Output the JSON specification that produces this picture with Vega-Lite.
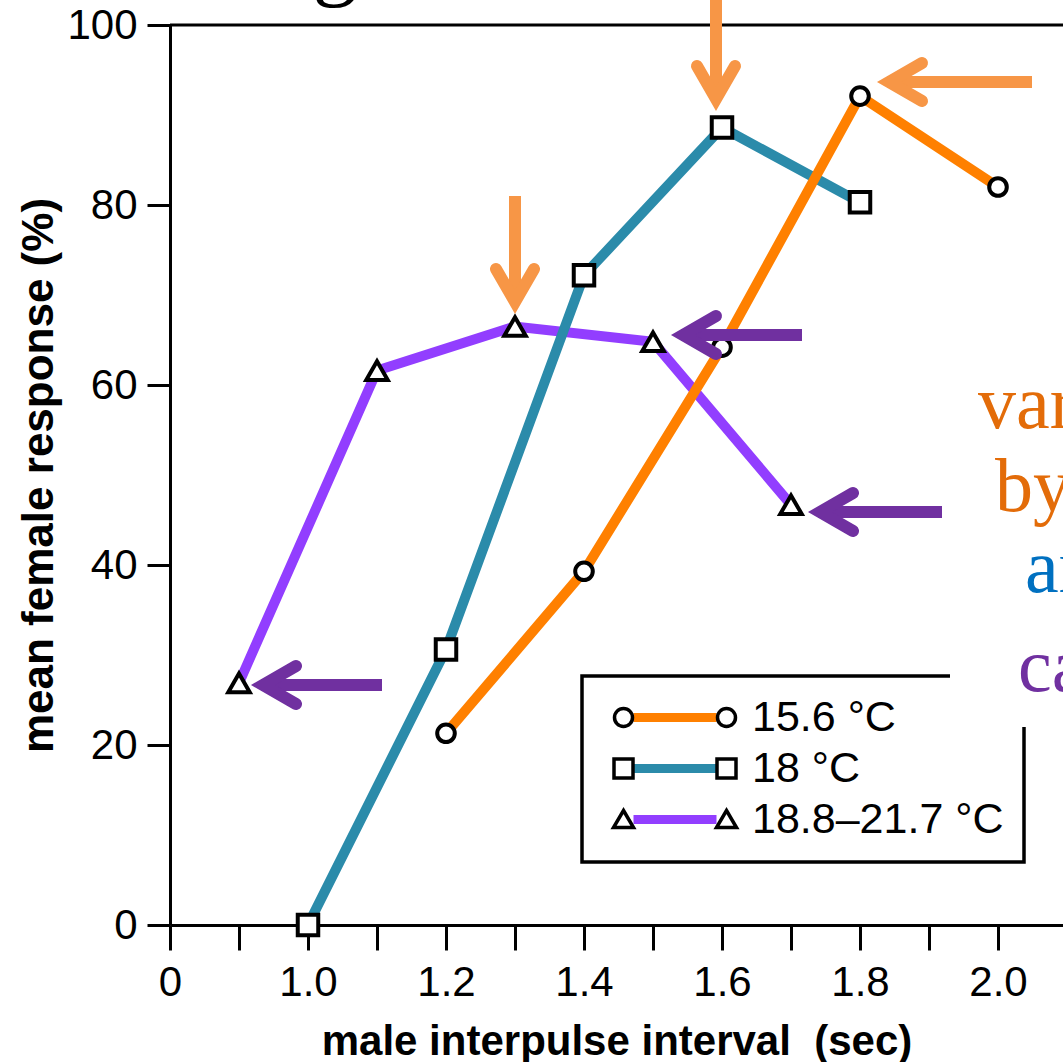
{
  "$schema": "https://vega.github.io/schema/vega-lite/v6.json",
  "width": 893,
  "height": 900,
  "autosize": {"type": "none"},
  "padding": {"left": 170, "top": 25, "right": 0, "bottom": 137},
  "background": "white",
  "config": {
    "view": {"stroke": null},
    "font": "Liberation Sans",
    "legend": {"strokeWidth": 3},
    "axis": {
      "domainColor": "black", "tickColor": "black", "labelColor": "black", "titleColor": "black",
      "domainWidth": 3, "tickWidth": 3, "grid": false,
      "labelFont": "Liberation Sans", "titleFont": "Liberation Sans",
      "labelFontSize": 42, "titleFontWeight": "bold", "labelFlush": false, "labelOverlap": false
    }
  },
  "datasets": {
    "series": [
      {"series": "18.8–21.7 °C", "x": 0.9, "y": 26.9},
      {"series": "18.8–21.7 °C", "x": 1.1, "y": 61.6},
      {"series": "18.8–21.7 °C", "x": 1.3, "y": 66.5},
      {"series": "18.8–21.7 °C", "x": 1.5, "y": 64.8},
      {"series": "18.8–21.7 °C", "x": 1.7, "y": 46.7},
      {"series": "18 °C", "x": 1.0, "y": 0},
      {"series": "18 °C", "x": 1.2, "y": 30.6},
      {"series": "18 °C", "x": 1.4, "y": 72.2},
      {"series": "18 °C", "x": 1.6, "y": 88.6},
      {"series": "18 °C", "x": 1.8, "y": 80.3},
      {"series": "15.6 °C", "x": 1.2, "y": 21.3},
      {"series": "15.6 °C", "x": 1.4, "y": 39.3},
      {"series": "15.6 °C", "x": 1.6, "y": 64.2},
      {"series": "15.6 °C", "x": 1.8, "y": 92.1},
      {"series": "15.6 °C", "x": 2.0, "y": 82.0}
    ],
    "heads": [
      {"arrow": "A", "note": "peak", "i": 0, "x": 1.56377, "y": 95.444},
      {"arrow": "A", "note": "peak", "i": 1, "x": 1.59130, "y": 91.778},
      {"arrow": "A", "note": "peak", "i": 2, "x": 1.61884, "y": 95.444},
      {"arrow": "B", "note": "peak", "i": 0, "x": 1.88986, "y": 95.778},
      {"arrow": "B", "note": "peak", "i": 1, "x": 1.84203, "y": 93.667},
      {"arrow": "B", "note": "peak", "i": 2, "x": 1.88986, "y": 91.556},
      {"arrow": "C", "note": "peak", "i": 0, "x": 1.27246, "y": 72.889},
      {"arrow": "C", "note": "peak", "i": 1, "x": 1.3, "y": 69.222},
      {"arrow": "C", "note": "peak", "i": 2, "x": 1.32754, "y": 72.889},
      {"arrow": "D", "note": "edge", "i": 0, "x": 1.59130, "y": 67.667},
      {"arrow": "D", "note": "edge", "i": 1, "x": 1.54348, "y": 65.556},
      {"arrow": "D", "note": "edge", "i": 2, "x": 1.59130, "y": 63.444},
      {"arrow": "E", "note": "edge", "i": 0, "x": 1.78986, "y": 48.0},
      {"arrow": "E", "note": "edge", "i": 1, "x": 1.74203, "y": 45.889},
      {"arrow": "E", "note": "edge", "i": 2, "x": 1.78986, "y": 43.778},
      {"arrow": "F", "note": "edge", "i": 0, "x": 0.98261, "y": 28.778},
      {"arrow": "F", "note": "edge", "i": 1, "x": 0.93478, "y": 26.667},
      {"arrow": "F", "note": "edge", "i": 2, "x": 0.98261, "y": 24.556}
    ],
    "shafts": [
      {"arrow": "A", "note": "peak", "i": 0, "x": 1.59130, "y": 92.778},
      {"arrow": "A", "note": "peak", "i": 1, "x": 1.59130, "y": 103.889},
      {"arrow": "B", "note": "peak", "i": 0, "x": 1.85507, "y": 93.667},
      {"arrow": "B", "note": "peak", "i": 1, "x": 2.04928, "y": 93.667},
      {"arrow": "C", "note": "peak", "i": 0, "x": 1.3, "y": 70.222},
      {"arrow": "C", "note": "peak", "i": 1, "x": 1.3, "y": 81.0},
      {"arrow": "D", "note": "edge", "i": 0, "x": 1.55652, "y": 65.556},
      {"arrow": "D", "note": "edge", "i": 1, "x": 1.71594, "y": 65.556},
      {"arrow": "E", "note": "edge", "i": 0, "x": 1.75507, "y": 45.889},
      {"arrow": "E", "note": "edge", "i": 1, "x": 1.91884, "y": 45.889},
      {"arrow": "F", "note": "edge", "i": 0, "x": 0.94783, "y": 26.667},
      {"arrow": "F", "note": "edge", "i": 1, "x": 1.10725, "y": 26.667}
    ],
    "words": [
      {"word": "var", "x": 1.971, "y": 55.2},
      {"word": "by", "x": 1.9957, "y": 46.0},
      {"word": "ar", "x": 2.039, "y": 37.0},
      {"word": "ca", "x": 2.029, "y": 26.0}
    ]
  },
  "layer": [
    {
      "data": {"values": [{}]},
      "mark": {"type": "rule", "color": "black", "strokeWidth": 3},
      "encoding": {"y": {"datum": 100, "type": "quantitative"}}
    },
    {
      "data": {"name": "series"},
      "mark": {"type": "line", "strokeWidth": 10, "strokeJoin": "miter"},
      "encoding": {
        "x": {
          "field": "x", "type": "quantitative",
          "scale": {"domain": [0.8, 2.0942], "nice": false, "zero": false},
          "axis": {
            "title": "male interpulse interval\u00a0 (sec)",
            "values": [0.8, 0.9, 1.0, 1.1, 1.2, 1.3, 1.4, 1.5, 1.6, 1.7, 1.8, 1.9, 2.0],
            "labelExpr": "round(datum.value*10) % 2 == 0 ? (datum.value < 0.85 ? '0' : format(datum.value, '.1f')) : ''",
            "tickSize": 25, "labelPadding": 12, "titlePadding": 18, "titleFontSize": 42,
            "encode": {"ticks": {"update": {"y2": {"signal": "round(datum.value*10) % 2 == 0 ? 25 : 18"}}}}
          }
        },
        "y": {
          "field": "y", "type": "quantitative",
          "scale": {"domain": [0, 100], "nice": false},
          "axis": {
            "title": "mean female response (%)",
            "values": [0, 20, 40, 60, 80, 100],
            "tickSize": 23, "labelPadding": 10, "titlePadding": 5, "titleFontSize": 44
          }
        },
        "color": {
          "field": "series", "type": "nominal",
          "scale": {"domain": ["15.6 °C", "18 °C", "18.8–21.7 °C"], "range": ["#FF8000", "#2B8BAA", "#923EFF"]},
          "legend": {
            "orient": "none", "legendX": 412, "legendY": 651, "title": null,
            "symbolType": "M10,0L93,0", "symbolSize": 4, "symbolStrokeWidth": 9,
            "labelFont": "Liberation Sans", "labelFontSize": 43, "labelOffset": 107, "labelLimit": 400,
            "labelOpacity": 0, "padding": 20, "rowPadding": 7,
            "strokeColor": "black",
            "encode": {"legend": {"update": {"strokeWidth": {"value": 3.5}, "strokeDash": {"value": [368, 125, 2000]}}}}
          }
        }
      }
    },
    {
      "data": {"name": "series"},
      "mark": {"type": "point", "filled": false, "fill": "white", "stroke": "black", "strokeWidth": 4, "opacity": 1},
      "encoding": {
        "x": {"field": "x", "type": "quantitative"},
        "y": {"field": "y", "type": "quantitative"},
        "shape": {
          "field": "series", "type": "nominal",
          "scale": {"domain": ["15.6 °C", "18 °C", "18.8–21.7 °C"], "range": ["circle", "square", "triangle-up"]},
          "legend": null
        },
        "size": {"field": "series", "type": "nominal", "scale": {"type": "ordinal", "domain": ["18 °C", "15.6 °C", "18.8–21.7 °C"], "range": [420, 310, 460]}, "legend": null}
      }
    },
    {
      "data": {"name": "series"},
      "mark": {"type": "point", "filled": false, "opacity": 0, "size": 4},
      "encoding": {
        "x": {"field": "x", "type": "quantitative"},
        "y": {"field": "y", "type": "quantitative"},
        "shape": {
          "field": "series", "type": "nominal",
          "scale": {
            "domain": ["15.6 °C", "18 °C", "18.8–21.7 °C"],
            "range": [
              "M-9,0A9,9 0 1,0 9,0A9,9 0 1,0 -9,0ZM94,0A9,9 0 1,0 112,0A9,9 0 1,0 94,0Z",
              "M-9.5,-9.5h19v19h-19ZM93.5,-9.5h19v19h-19Z",
              "M0,-9L10,8L-10,8ZM103,-9L113,8L93,8Z"
            ]
          },
          "legend": {
            "orient": "none", "legendX": 412, "legendY": 651, "title": null,
            "symbolSize": 4, "symbolStrokeWidth": 3.5, "symbolFillColor": "white", "symbolStrokeColor": "black", "symbolOpacity": 1,
            "labelFont": "Liberation Sans", "labelFontSize": 43, "labelOffset": 107, "labelLimit": 400,
            "labelColor": "black", "padding": 20, "rowPadding": 7
          }
        }
      }
    },
    {
      "data": {"name": "shafts"},
      "mark": {"type": "line", "strokeWidth": 12, "strokeCap": "butt"},
      "encoding": {
        "x": {"field": "x", "type": "quantitative"},
        "y": {"field": "y", "type": "quantitative"},
        "detail": {"field": "arrow"},
        "order": {"field": "i"},
        "color": {"field": "note", "type": "nominal", "scale": {"domain": ["peak", "edge"], "range": ["#F79646", "#7030A0"]}, "legend": null}
      }
    },
    {
      "data": {"name": "heads"},
      "mark": {"type": "line", "strokeWidth": 12, "strokeCap": "round", "strokeJoin": "miter"},
      "encoding": {
        "x": {"field": "x", "type": "quantitative"},
        "y": {"field": "y", "type": "quantitative"},
        "detail": {"field": "arrow"},
        "order": {"field": "i"},
        "color": {"field": "note", "type": "nominal", "scale": {"domain": ["peak", "edge"], "range": ["#F79646", "#7030A0"]}, "legend": null}
      }
    },
    {
      "data": {"name": "words"},
      "mark": {"type": "text", "font": "Liberation Serif", "fontSize": 76, "align": "left", "baseline": "alphabetic"},
      "encoding": {
        "x": {"field": "x", "type": "quantitative"},
        "y": {"field": "y", "type": "quantitative"},
        "text": {"field": "word"},
        "color": {"field": "word", "type": "nominal", "scale": {"domain": ["var", "by", "ar", "ca"], "range": ["#E36C09", "#E36C09", "#0070C0", "#7030A0"]}, "legend": null}
      }
    },
    {
      "data": {"values": [{}]},
      "mark": {"type": "text", "font": "Liberation Serif", "fontSize": 90, "align": "center", "baseline": "alphabetic", "color": "black", "text": "g"},
      "encoding": {
        "x": {"datum": 1.039, "type": "quantitative"},
        "y": {"datum": 103.96, "type": "quantitative"}
      }
    }
  ],
  "resolve": {"scale": {"color": "independent", "shape": "independent"}}
}
